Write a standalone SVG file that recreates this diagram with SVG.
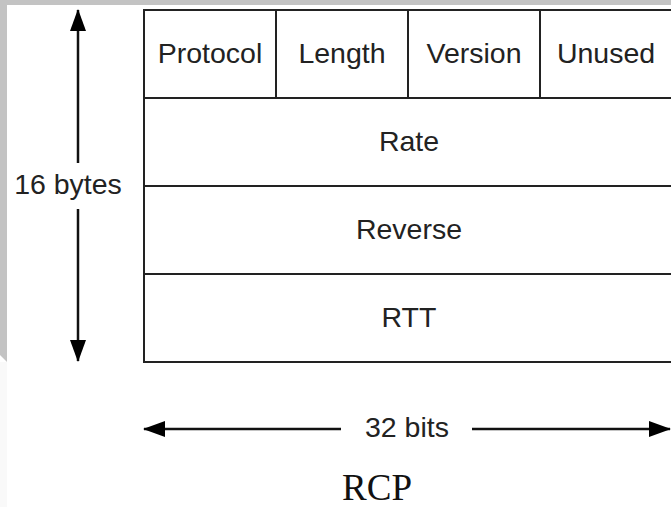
<svg xmlns="http://www.w3.org/2000/svg" width="671" height="507" viewBox="0 0 671 507">
  <style>
    .cell { fill: none; stroke: #222; stroke-width: 2; }
    .lbl { font-family: "Liberation Sans", Arial, sans-serif; font-size: 28.5px; fill: #222; text-anchor: middle; }
    .title { font-family: "Liberation Serif", "Times New Roman", serif; font-size: 37px; fill: #111; text-anchor: middle; }
    .dim { stroke: #111; stroke-width: 2.5; fill: none; }
  </style>
  <defs>
    <marker id="head" viewBox="0 0 22 16" refX="21" refY="8" markerWidth="22" markerHeight="16" markerUnits="userSpaceOnUse" orient="auto">
      <path d="M0,0 L22,8 L0,16 Z" fill="#000"/>
    </marker>
  </defs>

  <!-- page frame -->
  <rect x="0" y="0" width="671" height="507" fill="#ffffff"/>
  <rect x="0" y="0" width="671" height="5" fill="#c3c3c3"/>
  <path d="M0,0 H7 V362 L0,355 Z" fill="#c3c3c3"/>
  <rect x="0" y="362" width="7" height="145" fill="#f9f9f9"/>

  <!-- header fields -->
  <g id="protocol">
    <rect class="cell" x="144" y="10" width="132" height="88"/>
    <text class="lbl" x="210" y="63">Protocol</text>
  </g>
  <g id="length">
    <rect class="cell" x="276" y="10" width="132" height="88"/>
    <text class="lbl" x="342" y="63">Length</text>
  </g>
  <g id="version">
    <rect class="cell" x="408" y="10" width="132" height="88"/>
    <text class="lbl" x="474" y="63">Version</text>
  </g>
  <g id="unused">
    <rect class="cell" x="540" y="10" width="132" height="88"/>
    <text class="lbl" x="606" y="63">Unused</text>
  </g>

  <!-- full-width fields -->
  <g id="rate">
    <rect class="cell" x="144" y="98" width="528" height="88"/>
    <text class="lbl" x="409" y="151">Rate</text>
  </g>
  <g id="reverse">
    <rect class="cell" x="144" y="186" width="528" height="88"/>
    <text class="lbl" x="409" y="239">Reverse</text>
  </g>
  <g id="rtt">
    <rect class="cell" x="144" y="274" width="528" height="88"/>
    <text class="lbl" x="409" y="327">RTT</text>
  </g>

  <!-- dimension arrows -->
  <g id="connectors">
    <line class="dim" x1="78" y1="163" x2="78" y2="10" marker-end="url(#head)"/>
    <line class="dim" x1="78" y1="209" x2="78" y2="361" marker-end="url(#head)"/>
    <line class="dim" x1="341" y1="429" x2="144" y2="429" marker-end="url(#head)"/>
    <line class="dim" x1="472" y1="429" x2="670" y2="429" marker-end="url(#head)"/>
  </g>

  <g id="dim-labels">
    <text class="lbl" x="68" y="194">16 bytes</text>
    <text class="lbl" x="407" y="437">32 bits</text>
    <text class="title" x="377" y="500">RCP</text>
  </g>
</svg>
